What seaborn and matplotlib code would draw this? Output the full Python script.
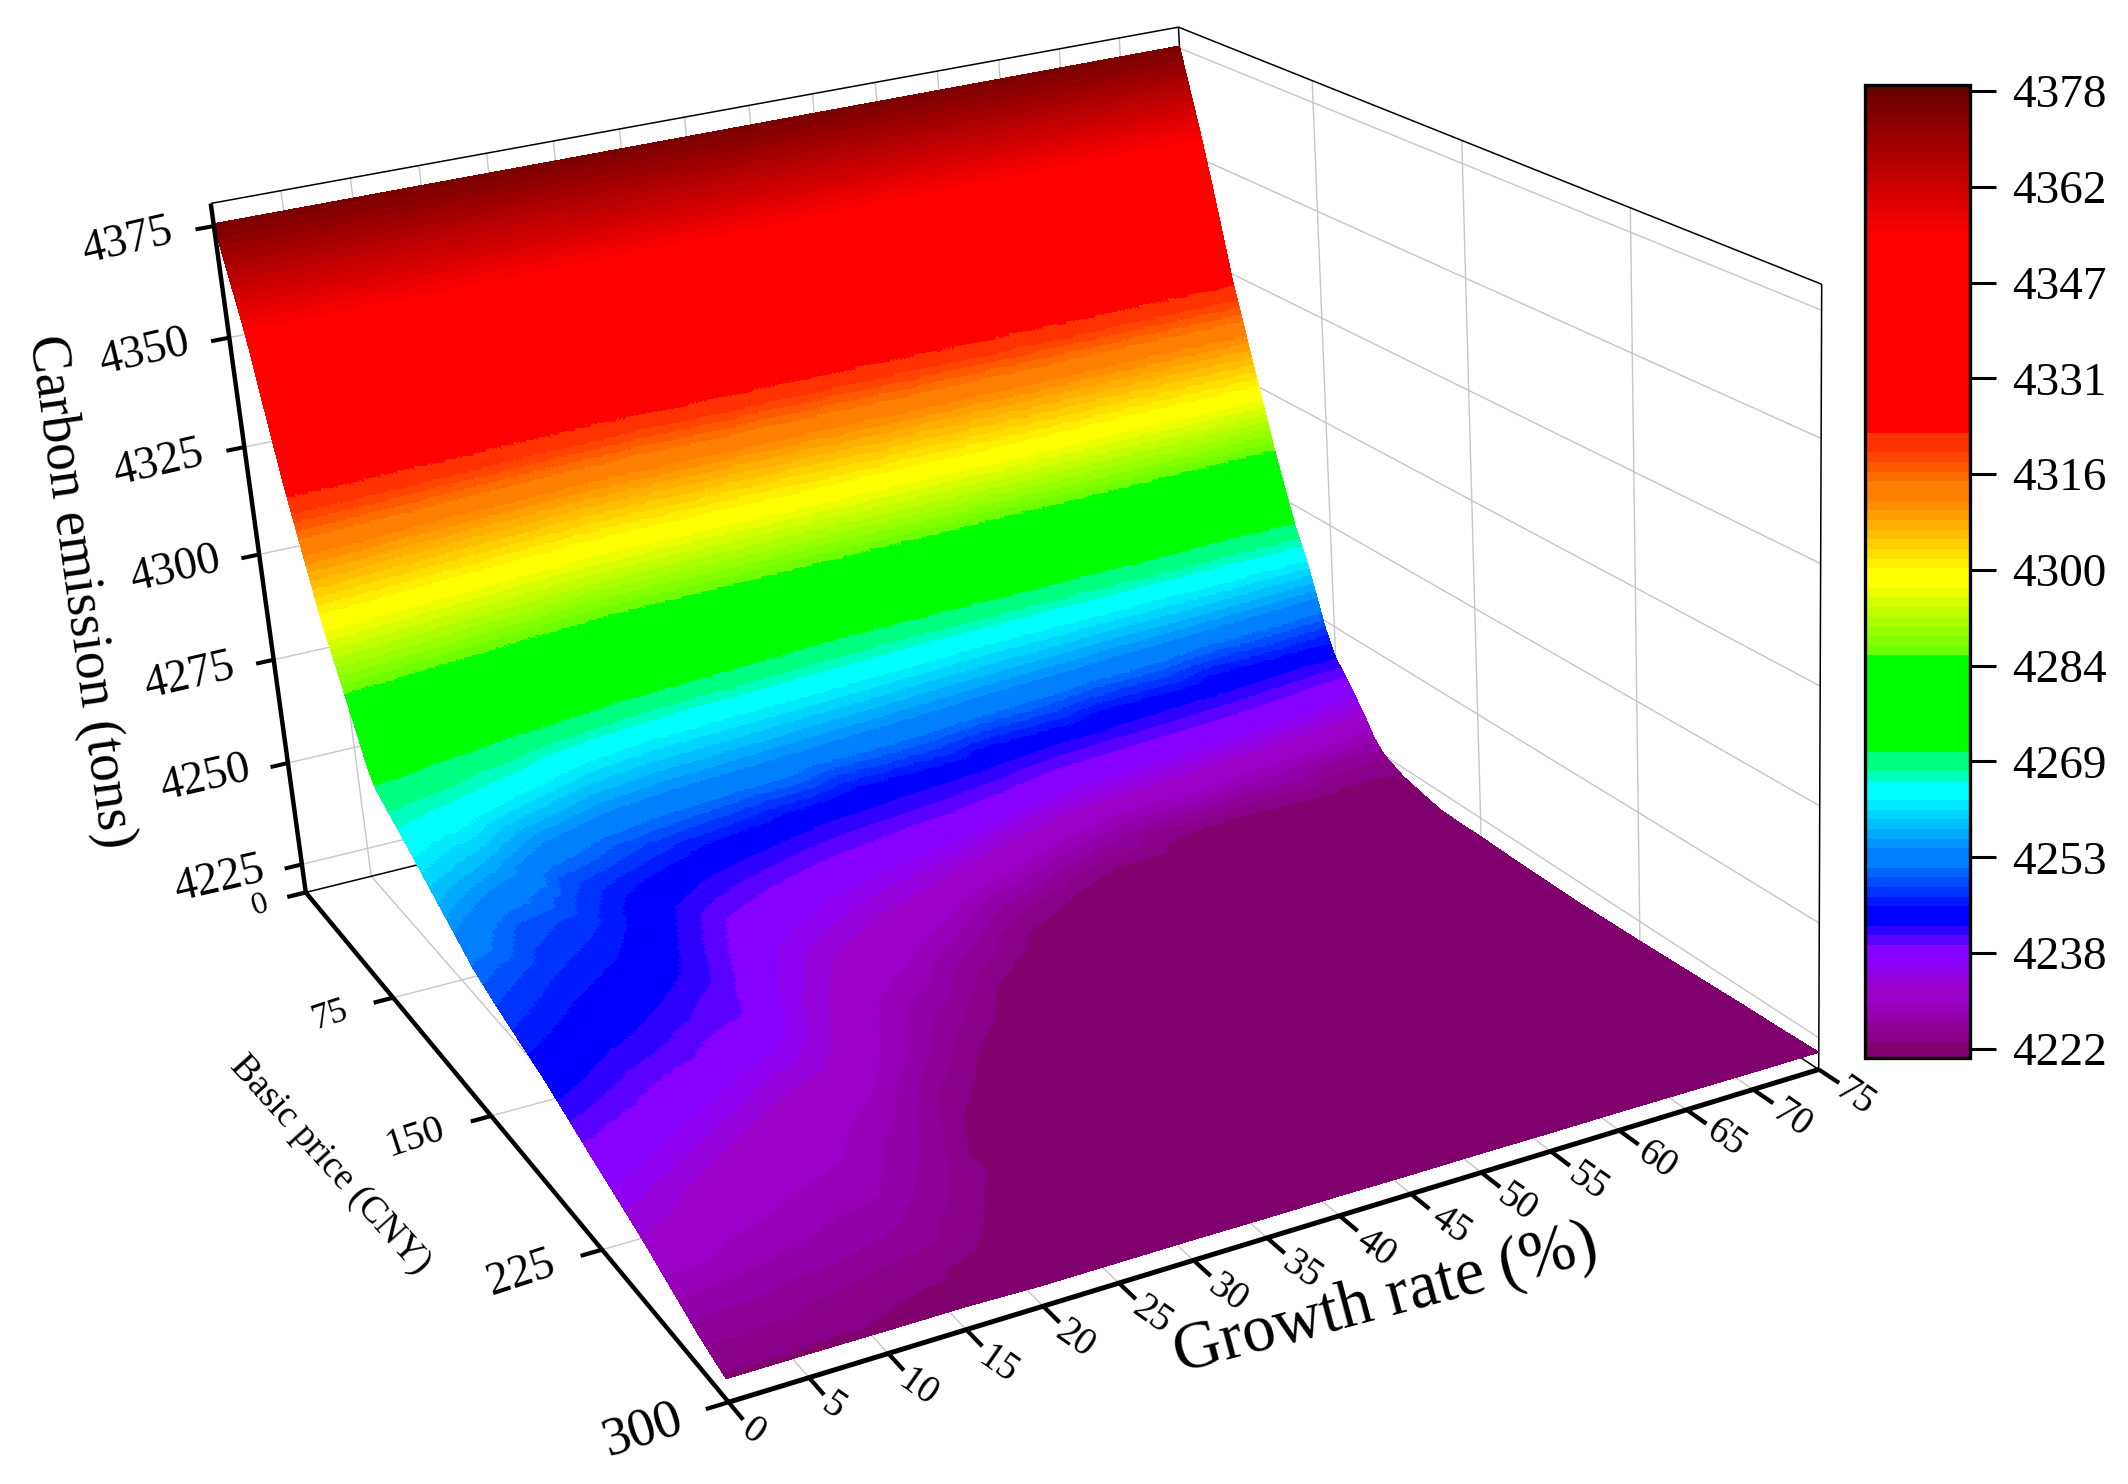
import numpy as np
import matplotlib
matplotlib.use('Agg')
import matplotlib.pyplot as plt
import matplotlib.tri as mtri
from matplotlib.colors import ListedColormap, Normalize
from matplotlib.cm import ScalarMappable
import seaborn as sns

# ---------- data ----------
growth_rate = [0,5,10,15,20,25,30,35,40,45,50,55,60,65,70,75]
basic_price = [0,5,10,15,20,25,30,35,40,45,50,55,60,65,70,75,80,85,90,95,100,
               110,120,130,140,150,165,180,195,210,225,240,255,270,285,300]
# carbon emission in tons above 4200; one row per basic price, one column per growth rate
emission_above_4200 = [
[175.5,175.5,175.5,175.5,175.5,175.5,175.5,175.5,175.5,175.5,175.5,175.5,175.5,175.5,175.5,175.5],
[169.2,169.1,168.9,168.8,168.6,168.4,168.2,168.0,167.8,167.6,167.3,167.0,166.8,166.5,166.1,165.8],
[163.0,162.7,162.4,162.0,161.7,161.3,160.9,160.5,160.1,159.6,159.1,158.6,158.0,157.4,156.8,156.1],
[156.8,156.3,155.8,155.3,154.8,154.2,153.6,153.0,152.2,151.3,150.4,149.5,148.6,147.6,146.6,145.6],
[149.5,148.7,147.9,147.0,146.1,145.2,144.3,143.4,142.4,141.4,140.3,139.3,138.1,136.8,135.6,134.4],
[140.8,139.8,138.9,137.7,136.1,134.2,132.9,131.7,130.6,129.6,128.6,127.7,126.5,125.3,124.1,123.0],
[132.6,131.0,129.1,126.6,123.4,121.1,120.6,120.0,119.5,118.9,118.3,117.7,116.8,115.8,114.8,113.8],
[124.6,122.3,120.1,117.4,114.3,112.5,111.9,111.3,110.8,110.2,109.7,108.9,107.8,106.8,105.7,104.5],
[117.7,115.2,112.4,109.2,105.3,103.8,103.2,102.6,102.1,101.5,101.0,100.1,98.9,97.8,96.6,95.3],
[111.0,108.1,104.8,100.9,97.3,96.4,95.9,95.3,94.6,93.8,92.9,91.7,90.4,89.0,87.6,86.0],
[104.3,101.0,97.7,94.8,91.7,90.7,89.8,88.8,87.7,86.5,84.9,83.3,81.9,80.4,79.1,77.8],
[98.0,95.3,92.4,89.3,86.0,84.7,83.0,80.7,78.8,77.3,75.8,74.5,73.2,71.9,70.7,69.8],
[93.0,90.1,87.1,83.6,80.0,77.9,75.1,71.3,69.9,69.0,68.0,67.1,66.3,65.5,64.7,63.7],
[88.0,84.9,81.4,77.7,74.0,71.1,68.4,66.5,65.3,63.9,62.8,62.0,61.0,59.8,58.2,56.1],
[82.9,79.4,75.7,71.7,67.5,65.1,63.8,62.7,61.4,60.1,58.7,57.5,56.0,54.1,51.7,48.0],
[77.7,74.0,70.2,66.3,62.7,61.6,60.4,59.1,57.7,56.2,54.6,53.0,51.0,43.7,42.7,42.2],
[72.5,69.8,67.5,62.3,59.5,58.4,57.1,55.6,54.1,52.3,50.5,43.5,42.5,41.6,40.4,39.1],
[69.6,68.0,64.9,59.1,56.4,55.2,53.7,52.1,50.4,43.4,42.2,41.2,40.3,39.5,38.1,35.6],
[68.3,66.2,61.5,55.8,53.2,51.9,50.3,43.5,42.7,41.6,39.8,38.8,37.9,36.8,35.0,32.0],
[66.9,64.4,58.0,52.6,50.1,47.0,42.9,42.0,41.1,39.7,37.2,36.1,35.0,33.6,32.0,27.8],
[65.6,62.3,54.5,49.7,46.1,43.2,41.4,40.5,39.5,37.4,34.5,33.3,32.0,29.2,25.9,25.2],
[62.8,57.9,49.6,46.2,42.5,40.5,38.6,37.4,35.6,31.8,27.8,23.5,23.0,22.6,22.6,22.8],
[59.9,53.5,48.4,43.7,40.4,38.0,36.0,34.2,31.1,26.8,23.0,22.4,21.9,21.5,21.4,21.6],
[57.0,49.8,47.3,42.9,38.4,36.1,33.4,31.2,26.4,23.2,21.9,21.3,20.8,20.6,20.5,20.5],
[54.1,48.5,46.2,42.1,37.4,34.2,31.4,28.7,23.4,22.2,20.9,20.7,20.6,20.6,20.5,20.4],
[51.2,47.3,45.0,41.3,36.4,32.3,30.0,26.0,22.4,21.1,20.8,20.7,20.6,20.5,20.4,20.4],
[48.4,45.4,43.1,40.1,34.9,30.5,27.8,22.9,21.0,20.8,20.7,20.6,20.5,20.4,20.3,20.2],
[46.1,43.4,41.0,38.9,33.4,28.9,25.0,21.4,20.8,20.7,20.6,20.5,20.4,20.3,20.2,20.1],
[43.8,40.9,38.8,35.8,31.9,27.3,22.7,20.9,20.7,20.6,20.5,20.4,20.3,20.2,20.1,20.0],
[40.9,38.4,35.5,32.0,29.8,24.6,21.3,20.9,20.8,20.8,20.7,20.6,20.5,20.4,20.3,20.2],
[37.9,35.3,32.0,30.6,27.8,22.7,21.1,21.2,21.1,21.0,20.9,20.8,20.7,20.6,20.5,20.4],
[35.1,32.1,30.4,29.3,26.1,21.3,21.3,21.4,21.3,21.2,21.1,21.0,21.0,20.9,20.8,20.7],
[32.2,30.0,28.8,28.0,24.6,21.3,21.6,21.6,21.5,21.4,21.4,21.3,21.2,21.1,21.1,21.0],
[28.8,27.9,27.2,25.9,23.2,21.6,21.8,21.8,21.7,21.7,21.6,21.5,21.5,21.4,21.3,21.3],
[25.4,25.1,24.1,23.3,21.8,22.0,22.0,22.0,21.9,21.9,21.8,21.8,21.7,21.6,21.6,21.5],
[22.8,22.8,22.7,22.7,22.3,22.3,22.3,22.2,22.2,22.1,22.1,22.0,22.0,21.9,21.8,21.8],
]
z_ticks = [4225,4250,4275,4300,4325,4350,4375]
price_ticks = [0,75,150,225,300]
growth_ticks = list(range(0,80,5))
bar_ticks = [4222,4237.6,4253.2,4268.8,4284.4,4300,4315.6,4331.2,4346.8,4362.4,4378]
bar_labels = ['4222','4238','4253','4269','4284','4300','4316','4331','4347','4362','4378']

# ---------- styles / layout ----------
W, H = 2128, 1484
X0, X1, Y0, Y1, Z0, Z1 = 0, 75, 0, 300, 4218, 4380
sns.set_theme(style='white')
plt.rcParams['font.family'] = ['Liberation Serif', 'DejaVu Serif']
plt.rcParams['text.color'] = 'black'

# colour ramp: (emission level, colour) stops of the reference's legend
stops = [(4220.5,(128,0,110)),(4223.5,(128,0,110)),(4224,(135,0,135)),(4232,(155,0,200)),
         (4238,(135,0,255)),(4244,(0,0,255)),(4254,(0,128,255)),(4264.5,(0,255,255)),
         (4268.8,(0,255,128)),(4270.4,(0,255,0)),(4286,(0,255,0)),(4286.1,(110,255,0)),
         (4299,(255,255,0)),(4314,(255,128,0)),(4322,(255,50,0)),(4323,(255,0,0)),
         (4354.6,(255,0,0)),(4379.5,(105,0,0))]
step = 1.6
colors = []
for (za, ca), (zb, cb) in zip(stops[:-1], stops[1:]):
    n = max(int(round((zb - za) / step)), 1) if zb - za > 0.6 else 0
    if n:
        pal = sns.blend_palette([np.array(ca)/255, np.array(cb)/255], n_colors=n)
        colors.extend(pal)
cmap = ListedColormap(colors)
norm = Normalize(4220.0, 4379.0)

# projection calibrated on the box corners of the reference (pixels)
box3 = [(X0,Y0,Z0),(X0,Y1,Z0),(X1,Y1,Z0),(X0,Y0,Z1),(X1,Y0,Z1),(X1,Y1,Z1)]
box2 = [(306,893),(728,1402),(1819,1069),(211,203),(1178,27),(1822,285)]
S = np.diag([1/75, 1/300, 1/162, 1.0]); S[2,3] = -Z0/162
rows = []
for p3, (u, v) in zip(box3, box2):
    p = S @ np.array([*p3, 1.0])
    rows.append(list(p) + [0,0,0,0] + list(-u*p))
    rows.append([0,0,0,0] + list(p) + list(-v*p))
P = np.linalg.svd(np.array(rows))[2][-1].reshape(3,4) @ S
P = P / P[2,3]

fig = plt.figure(figsize=(W/100, H/100), dpi=100, facecolor='white')
side = W / H
bottom = (1 - side) / 2
ax = fig.add_axes([0, bottom, 1, side], projection='3d')
ax.set_axis_off()
ax.computed_zorder = False
ax.set_proj_type('ortho')   # no near/far clipping; the matrix below gives the perspective

def custom_proj():
    vx = ax.viewLim.intervalx; vy = ax.viewLim.intervaly
    # reference pixel -> axes fraction -> 2D view coordinates
    T = np.array([[(vx[1]-vx[0])/W, 0, vx[0]],
                  [0, -(vy[1]-vy[0])/W, vy[0] + (vy[1]-vy[0])*(H + (W-H)/2)/W],
                  [0, 0, 1]])
    Q = T @ P
    return np.array([Q[0], Q[1], [0,0,0,1.0], Q[2]])
ax.get_proj = custom_proj

GRID = '#c6c6c6'
def L(xs, ys, zs, color=GRID, lw=1.0, z=1):
    ax.plot(xs, ys, zs, color=color, lw=lw, zorder=z, solid_capstyle='butt')

for x in growth_ticks[1:-1]:
    L([x,x],[Y0,Y1],[Z0,Z0]); L([x,x],[Y0,Y0],[Z0,Z1])
for y in price_ticks[1:-1]:
    L([X0,X1],[y,y],[Z0,Z0]); L([X1,X1],[y,y],[Z0,Z1])
for z in z_ticks:
    L([X0,X1],[Y0,Y0],[z,z]); L([X1,X1],[Y0,Y1],[z,z])

# thin box edges
for a, b in [((X0,Y0,Z1),(X1,Y0,Z1)),((X1,Y0,Z1),(X1,Y1,Z1)),((X1,Y1,Z1),(X1,Y1,Z0)),
             ((X0,Y0,Z0),(X1,Y0,Z0)),((X1,Y0,Z0),(X1,Y1,Z0)),((X1,Y0,Z1),(X1,Y0,Z0))]:
    L([a[0],b[0]],[a[1],b[1]],[a[2],b[2]], color='black', lw=1.1, z=1.5)

# surface
gx, gy = np.meshgrid(growth_rate, basic_price)
gz = np.array(emission_above_4200) + 4200
tri = mtri.Triangulation(gx.ravel(), gy.ravel())
refiner = mtri.UniformTriRefiner(tri)
tri_f, z_f = refiner.refine_field(gz.ravel(), mtri.LinearTriInterpolator(tri, gz.ravel()), subdiv=4)
ax.plot_trisurf(tri_f, z_f, cmap=cmap, norm=norm, shade=False, antialiased=False,
                linewidth=0, zorder=2)

# thick axes and ticks
THICK = 3.2
L([X0,X0],[Y0,Y0],[Z0,Z1], 'black', THICK, 3)
L([X0,X0],[Y0,Y1],[Z0,Z0], 'black', THICK, 3)
L([X0,X1],[Y1,Y1],[Z0,Z0], 'black', THICK+0.4, 3)
for z in z_ticks:
    L([X0,X0-1.3],[Y0,Y0],[z,z], 'black', THICK*0.9, 3)
for y in price_ticks:
    L([X0,X0-1.4],[y,y],[Z0,Z0], 'black', THICK*0.95, 3)
for x in growth_ticks:
    L([x,x],[Y1,Y1+8],[Z0,Z0], 'black', THICK*0.95, 3)

def label(s, px, py, size, rot):
    fig.text(px/W, 1-py/H, s, ha='center', va='center', rotation=rot,
             rotation_mode='anchor', fontsize=size, color='black')

z_pos = [(219,880),(205,779),(189,677),(175,570),(158,464),(144,353),(127,242)]
for t, (px,py) in zip(z_ticks, z_pos):
    label(str(t), px, py, 33, 13)
price_pos = [(260,905),(330,1015),(415,1138),(521,1274),(643,1430)]
price_size = [23,26,29,33,39]
for t, (px,py), s in zip(price_ticks, price_pos, price_size):
    label(str(t), px, py, s, 18)
growth_pos = [(753,1432),(833,1407),(918,1388),(998,1365),(1075,1339),(1152,1315),(1227,1293),
              (1301,1270),(1376,1248),(1451,1225),(1517,1203),(1588,1182),(1657,1160),(1726,1138),
              (1792,1119),(1855,1097)]
for t, (px,py) in zip(growth_ticks, growth_pos):
    label(str(t), px, py, 28, -35)
label('Carbon emission (tons)', 80, 592, 40, -82)
label('Basic price (CNY)', 330, 1165, 27, -48)
label('Growth rate (%)', 1386, 1300, 48, 15)

# colour bar
cax = fig.add_axes([1865/W, 1-1058/H, 105/W, 973/H])
cb = fig.colorbar(ScalarMappable(norm=norm, cmap=cmap), cax=cax)
cax.set_ylim(4220.5, 4379.0)
cb.set_ticks(bar_ticks)
cb.set_ticklabels(bar_labels)
cb.outline.set_linewidth(2.4)
cb.outline.set_edgecolor('black')
cax.tick_params(axis='y', length=19, width=2.2, color='black', labelcolor='black', pad=11,
                labelsize=34, right=True, left=False)
cax.minorticks_off()

fig.savefig('out.png', dpi=100, facecolor='white')
